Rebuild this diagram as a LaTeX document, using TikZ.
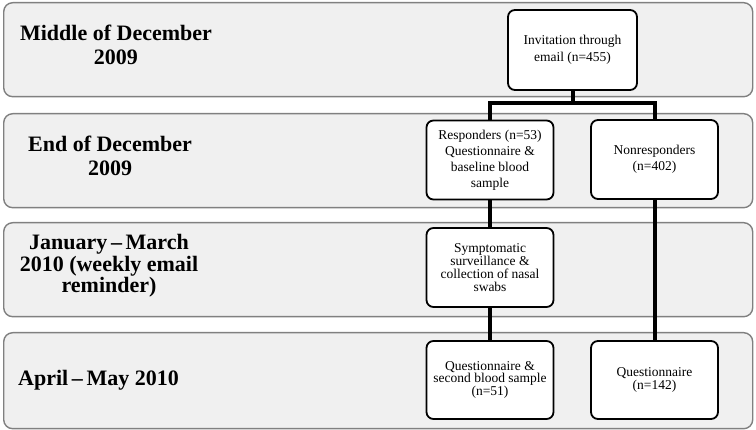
\documentclass[tikz,border=0pt]{standalone}
\usepackage{fontspec}
\setmainfont{Liberation Serif}
\begin{document}
\begin{tikzpicture}[x=1pt,y=-1pt,
  band/.style={draw=black!50, fill=black!6, line width=1.4pt, rounded corners=9pt, anchor=north west, inner sep=0pt, minimum width=749pt, minimum height=94pt},
  lab/.style={font=\fontsize{22}{23.5}\selectfont\bfseries, align=center, inner sep=0pt},
  box/.style={draw=black, fill=white, line width=1.8pt, rounded corners=7pt, minimum width=127pt, minimum height=79pt, align=center, inner sep=2pt, font=\fontsize{13.5}{16}\selectfont},
  link/.style={line width=4pt}]
\useasboundingbox (0,0) rectangle (756,430);
% bands
\node[band] (b1) at (3,2) {};
\node[band] (b2) at (3,113) {};
\node[band] (b3) at (3,222) {};
\node[band, minimum height=96pt] (b4) at (3,332) {};
% labels
\node[lab] (l1) at (116,45) {Middle of December\\2009};
\node[lab] (l2) at (110,156) {End of December\\2009};
\node[lab, font=\fontsize{22}{21.5}\selectfont\bfseries] (l3) at (109,266) {January\,--\,March\\2010 (weekly email\\reminder)};
\node[lab, anchor=west] (l4) at (18,380) {April\,--\,May 2010};
% boxes
\node[box, minimum width=129pt, minimum height=80pt, font=\fontsize{13.5}{17}\selectfont] (inv) at (572.5,50) {Invitation through\\email (n=455)};
\node[box] (resp) at (490,160) {Responders (n=53)\\Questionnaire \&\\baseline blood\\sample};
\node[box] (nonr) at (654.5,159.5) {Nonresponders\\(n=402)};
\node[box, font=\fontsize{13.5}{13}\selectfont] (symp) at (490,267.5) {Symptomatic\\surveillance \&\\collection of nasal\\swabs};
\node[box, minimum height=78pt, font=\fontsize{13.5}{11.5}\selectfont] (q1) at (490,380) {Questionnaire \&\\second blood sample\\(n=51)};
\node[box, minimum height=78pt, font=\fontsize{13.5}{11.5}\selectfont] (q2) at (654.5,380) {Questionnaire\\(n=142)};
% connectors
\draw[link] (inv.south) -- (inv.south |- 0,103);
\draw[link] (resp.north) -- (resp.north |- 0,103) -| (nonr.north);
\draw[link] (resp.south) -- (symp.north);
\draw[link] (symp.south) -- (q1.north);
\draw[link] (nonr.south) -- (q2.north);
\end{tikzpicture}
\end{document}
